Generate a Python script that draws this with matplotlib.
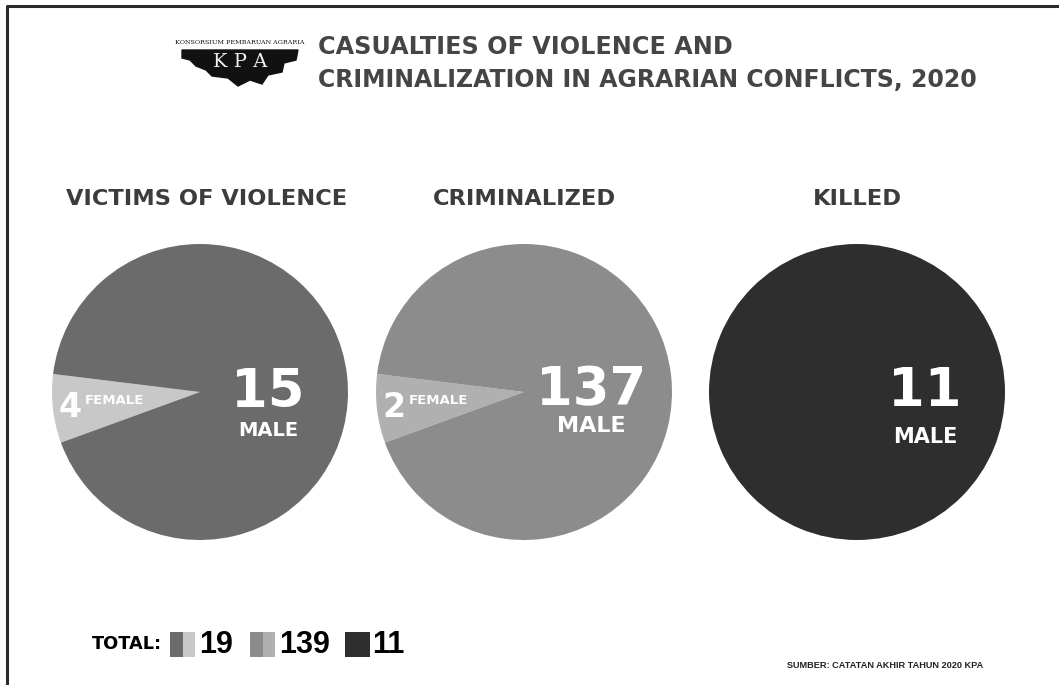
import numpy as np
import matplotlib
matplotlib.use("Agg")
import matplotlib.pyplot as plt
from matplotlib.patches import Rectangle, Polygon

# data
panels = ["VICTIMS OF VIOLENCE", "CRIMINALIZED", "KILLED"]
male = [15, 137, 11]
female = [4, 2, 0]
# female slice as drawn in the infographic (not to scale with the counts)
female_share = [0.075, 0.075, 0.0]
main_col = ["#6b6b6b", "#8c8c8c", "#2e2e2e"]
fem_col = ["#c8c8c8", "#b0b0b0", "#2e2e2e"]
source = "SUMBER: CATATAN AKHIR TAHUN 2020 KPA"

W, H = 1059, 685
fig = plt.figure(figsize=(W / 100, H / 100), dpi=100)
ax = fig.add_axes([0, 0, 1, 1])
ax.set_xlim(0, W)
ax.set_ylim(0, H)
ax.set_aspect("equal")
ax.axis("off")

def Y(y):
  return H - y

# border
ax.plot([7, 7, W], [Y(H), Y(6), Y(6)], color="#2a2a2a", lw=2.2, solid_capstyle="butt")

# logo
ax.text(240, Y(42), "KONSORSIUM PEMBARUAN AGRARIA", fontsize=4.6, family="DejaVu Serif",
        ha="center", va="center", color="#111")
logo = np.array([[182, 50], [298, 50], [296, 60], [284, 63], [282, 72], [268, 75], [262, 84],
                 [250, 80], [238, 86], [228, 78], [212, 76], [206, 70], [196, 66], [190, 60], [182, 58]])
ax.add_patch(Polygon(np.c_[logo[:, 0], H - logo[:, 1]], closed=True, color="#111"))
ax.text(240, Y(62), "K P A", fontsize=14, family="DejaVu Serif", ha="center", va="center",
        color="#f0f0f0")

# title
ax.text(318, Y(47), "CASUALTIES OF VIOLENCE AND", fontsize=17.2, fontweight="bold",
        ha="left", va="center", color="#454545")
ax.text(318, Y(80), "CRIMINALIZATION IN AGRARIAN CONFLICTS, 2020", fontsize=17,
        fontweight="bold", ha="left", va="center", color="#454545")

cx = [200, 524, 857]
cy = 392
r = 148
head_x = [207, 524, 857]
big_x = [268, 591, 925]
big_y = [392, 390, 391]
male_y = [430, 426, 437]
male_fs = [14, 16, 15]

for i in range(3):
  ax.text(head_x[i], Y(199), panels[i], fontsize=16.2, fontweight="bold", ha="center",
          va="center", color="#3c3c3c")
  if female[i] > 0:
    ax.pie([female_share[i], 1 - female_share[i]], colors=[fem_col[i], main_col[i]],
           center=(cx[i], Y(cy)), radius=r, startangle=173, counterclock=True,
           wedgeprops=dict(linewidth=0))
    ax.text(70 + (cx[i] - 200), Y(407), str(female[i]), fontsize=24,
            fontweight="bold", family=["Liberation Sans Narrow", "DejaVu Sans"],
            ha="center", va="center", color="white")
    ax.text(85 + (cx[i] - 200), Y(400), "FEMALE", fontsize=9.5, fontweight="bold",
            ha="left", va="center", color="white")
  else:
    ax.pie([male[i]], colors=[main_col[i]], center=(cx[i], Y(cy)), radius=r,
           wedgeprops=dict(linewidth=0))
  ax.text(big_x[i], Y(big_y[i]), str(male[i]), fontsize=38, fontweight="bold",
          ha="center", va="center", color="white")
  ax.text(big_x[i], Y(male_y[i]), "MALE", fontsize=male_fs[i], fontweight="bold",
          ha="center", va="center", color="white")

ax.set_xlim(0, W)
ax.set_ylim(0, H)

# totals
ax.text(92, Y(644), "TOTAL:", fontsize=12.8, fontweight="bold", family="DejaVu Sans",
        ha="left", va="center", color="black")
sq_x = [170, 250, 345]
txt_x = [199, 279, 372]
for i in range(3):
  total = male[i] + female[i]
  if female[i] > 0:
    ax.add_patch(Rectangle((sq_x[i], Y(657)), 13, 25, color=main_col[i], lw=0))
    ax.add_patch(Rectangle((sq_x[i] + 13, Y(657)), 12, 25, color=fem_col[i], lw=0))
  else:
    ax.add_patch(Rectangle((sq_x[i], Y(657)), 25, 25, color=main_col[i], lw=0))
  ax.text(txt_x[i], Y(645), str(total), fontsize=22, fontweight="bold",
          family="Liberation Sans", ha="left", va="center", color="black")

ax.text(787, Y(665), source, fontsize=6.6, fontweight="bold", family="Liberation Sans",
        ha="left", va="center", color="#222")

plt.savefig("out.png", dpi=100)
